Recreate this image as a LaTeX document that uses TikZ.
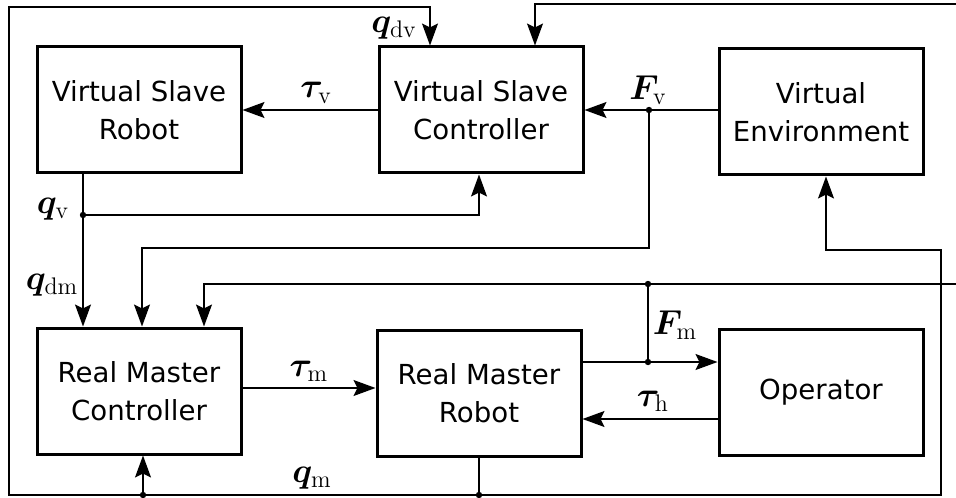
\documentclass[tikz,border=0pt]{standalone}
\usepackage{fontspec}
\usepackage{amsmath}
\usepackage{bm}
\newfontfamily\boxfont{DejaVu Sans}
\usetikzlibrary{arrows.meta,calc}
\tikzset{
  blk/.style={draw, line width=1.5pt, minimum width=102pt, minimum height=63pt,
    align=center, inner sep=0pt, font=\boxfont\fontsize{13.8}{19}\selectfont},
  ln/.style={line width=0.65pt},
  arr/.style={ln, -{Stealth[length=11pt,width=8pt,inset=2pt]}},
  lbl/.style={inner sep=0pt, font=\fontsize{17.28}{20}\selectfont},
  jdot/.style={circle, fill, inner sep=0pt, minimum size=3.2pt}
}
\begin{document}
\begin{tikzpicture}[x=0.5pt,y=-0.5pt]
\useasboundingbox (0,0) rectangle (956,497);
% blocks
\node[blk] (VSR) at (139,110) {Virtual Slave\\Robot};
\node[blk] (VSC) at (481,110) {Virtual Slave\\Controller};
\node[blk] (VE)  at (821,112) {Virtual\\Environment};
\node[blk] (RMC) at (139,391) {Real Master\\Controller};
\node[blk] (RMR) at (479,393) {Real Master\\Robot};
\node[blk] (OP)  at (821,392) {Operator};
% helper coordinates
\coordinate (qm) at (479,495);
\coordinate (qmL) at (143,495);
\coordinate (qdvX) at (430,0);
\coordinate (veX) at (826,0);
\coordinate (qv) at (83,215);
\coordinate (vscIn) at (479,0);
\coordinate (fv) at (649,110);
\coordinate (fvIn) at (142,0);
\coordinate (fm1) at (648,362);
\coordinate (fm2) at (648,284);
\coordinate (fmIn) at (204,0);
\coordinate (fmR) at (960,284);
\coordinate (topR) at (960,4);
\coordinate (topIn) at (535,0);
\coordinate (tm) at (242,388);
\coordinate (th) at (700,419);
% q_m loop
\draw[ln] (RMR.south -| qm) -- (qm);
\draw[arr] (qm) -- (9,495) -- (9,7) -| (VSC.north -| qdvX);
\draw[arr] (qmL) -- (RMC.south -| qmL);
\draw[arr] (qm) -- (941,495) -- (941,250) -| (VE.south -| veX);
\node[jdot] at (qm) {};
\node[jdot] at (qmL) {};
% q_v
\draw[ln] (VSR.south -| qv) -- (qv);
\draw[arr] (qv) -| (VSC.south -| vscIn);
\draw[arr] (qv) -- (RMC.north -| qv);
\node[jdot] at (qv) {};
% tau_v
\draw[arr] (VSC.west) -- (VSR.east);
% F_v
\draw[arr] (VE.west |- VSC.east) -- (VSC.east);
\draw[arr] (fv) -- (649,248) -| (RMC.north -| fvIn);
\node[jdot] at (fv) {};
% F_m
\draw[arr] (RMR.east |- fm1) -- (OP.west |- fm1);
\draw[ln] (fm1) -- (fm2);
\draw[arr] (fm2) -| (RMC.north -| fmIn);
\draw[ln] (fm2) -- (fmR);
\node[jdot] at (fm1) {};
\node[jdot] at (fm2) {};
\draw[arr] (topR) -| (VSC.north -| topIn);
% tau_m, tau_h
\draw[arr] (tm) -- (RMR.west |- tm);
\draw[arr] (OP.west |- th) -- (RMR.east |- th);
% labels
\node[lbl] (Lqdv) at (394,28) {$\bm{q}_{\mathrm{dv}}$};
\node[lbl] (Ltv) at (316,93) {$\bm{\tau}_{\mathrm{v}}$};
\node[lbl] (LFv) at (648,90) {$\bm{F}_{\mathrm{v}}$};
\node[lbl] (Lqv) at (53,209) {$\bm{q}_{\mathrm{v}}$};
\node[lbl] (Lqdm) at (52,285) {$\bm{q}_{\mathrm{dm}}$};
\node[lbl] (Ltm) at (309,371) {$\bm{\tau}_{\mathrm{m}}$};
\node[lbl] (LFm) at (675,325) {$\bm{F}_{\mathrm{m}}$};
\node[lbl] (Lth) at (653,401) {$\bm{\tau}_{\mathrm{h}}$};
\node[lbl] (Lqm) at (312,478) {$\bm{q}_{\mathrm{m}}$};
\end{tikzpicture}
\end{document}
